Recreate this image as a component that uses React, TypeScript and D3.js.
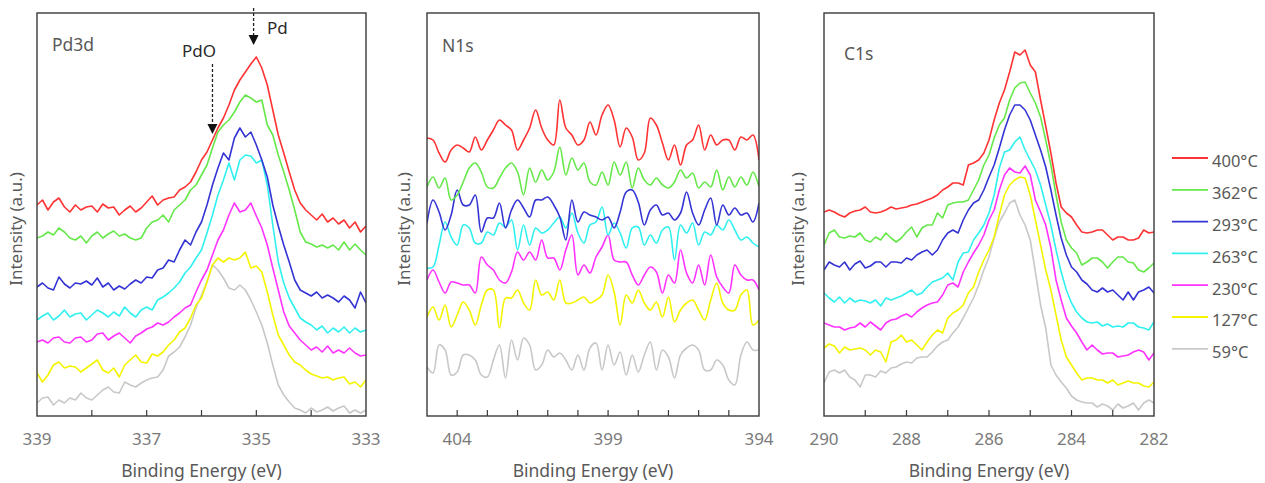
import React from 'react';
import * as d3 from 'd3';

// ---------- legend / series ----------
const temps = ['400°C', '362°C', '293°C', '263°C', '230°C', '127°C', '59°C'];
const colors = ['#ff3333', '#66e84a', '#3434d4', '#30f0f0', '#ff33ff', '#f4f400', '#c8c8c8'];

// ---------- Pd3d (339 -> 333 eV, step 0.1) ----------
const pdEnergy = d3.range(61).map((i) => +(339 - i * 0.1).toFixed(2));
const pd400 = [295,300,290,298,302,293,288,295,290,293,294,288,296,292,293,285,290,294,288,292,298,304,295,300,302,303,310,313,318,328,340,348,360,372,382,395,410,420,428,436,443,432,415,390,365,347,328,310,297,290,285,280,286,278,282,276,280,272,278,268,274];
const pd362 = [262,264,268,265,272,268,262,260,264,257,264,268,262,266,269,264,266,262,260,262,272,278,280,285,278,290,295,300,310,315,325,335,352,368,375,380,388,398,405,402,398,400,375,365,345,328,310,290,268,258,256,253,255,252,255,250,258,250,256,250,245];
const pd293 = [213,217,212,210,223,216,212,217,216,219,215,222,213,217,210,214,211,216,220,217,223,222,230,232,240,238,250,260,255,268,278,295,315,332,347,340,362,372,363,368,355,340,323,295,274,255,238,220,210,207,204,208,202,205,202,198,204,200,192,208,197];
const pd263 = [180,184,187,180,184,190,183,186,187,180,185,190,187,183,188,184,193,187,183,190,193,190,200,203,207,212,218,227,233,242,250,267,285,305,320,337,320,340,345,344,337,340,315,275,238,217,202,192,182,178,175,170,174,167,172,168,173,167,172,168,170];
const pd230 = [158,160,157,162,163,158,157,162,163,158,160,166,167,160,164,167,162,157,164,167,171,173,177,175,178,183,187,192,195,208,220,230,245,260,270,285,297,288,290,297,284,272,255,232,210,188,174,167,160,155,150,153,148,154,147,150,147,152,147,144,145];
const pd127 = [127,118,125,135,138,132,134,133,128,132,136,140,130,127,132,123,135,140,145,138,137,146,144,148,155,160,168,172,182,195,202,218,235,242,238,242,240,242,248,232,234,228,208,185,165,155,145,138,135,130,126,124,122,123,120,122,123,116,118,113,120];
const pd59 = [97,102,103,95,100,97,102,100,107,102,100,105,110,113,108,107,118,115,113,117,120,122,123,130,144,148,153,163,175,192,205,218,235,230,222,212,210,215,210,200,188,175,157,135,115,105,98,92,90,87,92,88,90,93,89,92,94,87,90,87,90];

// ---------- N1s (405 -> 394 eV, step 0.2) ----------
const nEnergy = d3.range(56).map((i) => +(405 - i * 0.2).toFixed(2));
const n400 = [362,360,347,338,350,355,352,348,363,350,360,370,380,375,370,350,360,372,390,372,360,355,400,372,365,355,360,378,365,385,395,380,353,372,363,340,347,382,375,357,340,355,335,355,360,375,350,365,355,360,360,350,363,360,365,340];
const n362 = [313,323,312,322,300,305,318,332,337,328,313,312,322,332,337,328,305,332,318,330,320,328,353,325,342,330,337,318,315,328,315,338,325,338,312,332,320,315,322,315,312,318,330,322,327,312,318,313,330,310,323,313,323,315,328,313];
const n293 = [277,300,288,270,285,310,295,295,305,268,282,282,297,272,290,300,292,283,300,300,303,295,283,260,300,278,288,285,283,280,283,272,288,308,310,298,275,290,295,285,287,280,287,308,287,275,290,302,275,295,285,292,285,287,278,297];
const n263 = [232,233,255,278,263,255,275,272,257,257,268,265,277,273,280,250,275,255,272,267,270,277,283,272,287,267,257,275,278,293,265,277,267,252,272,273,255,265,257,270,273,240,275,267,277,255,268,265,275,270,280,270,260,263,257,253];
const n230 = [220,230,218,207,218,217,215,215,207,243,235,230,220,217,228,248,240,248,240,260,242,242,230,250,265,225,235,227,243,253,265,240,238,238,225,215,225,233,228,207,225,217,250,227,217,235,215,245,223,213,207,235,225,220,220,210];
const n127 = [183,193,180,195,173,185,198,190,175,195,210,210,172,202,202,210,197,190,220,205,208,200,220,197,197,200,203,197,200,205,225,208,175,205,197,210,197,190,198,183,203,178,190,197,200,190,180,200,217,197,190,190,205,210,175,180];
const n59 = [133,127,155,150,125,128,145,145,140,125,123,140,155,122,160,140,162,155,130,135,150,143,147,140,130,145,130,152,157,130,155,135,148,125,145,128,145,158,130,150,143,122,145,152,155,150,130,130,140,135,120,115,145,158,150,150];

// ---------- C1s (290 -> 282 eV, step 0.125) ----------
const cEnergy = d3.range(65).map((i) => +(290 - i * 0.125).toFixed(3));
const c400 = [288,290,288,285,283,287,289,290,293,288,287,288,290,293,291,292,293,295,296,298,300,302,305,310,313,317,317,315,335,337,340,347,360,380,397,410,428,448,445,450,435,428,400,374,347,317,293,287,283,275,268,267,268,270,270,265,260,263,263,260,260,262,270,267,268];
const c362 = [255,267,270,263,262,264,263,267,260,258,263,260,267,262,258,262,268,273,263,272,275,275,287,282,295,297,298,298,300,310,320,335,345,362,375,382,400,412,417,418,407,397,383,360,335,305,278,260,252,247,235,238,242,242,238,232,238,243,243,238,237,230,228,232,237];
const c293 = [230,238,235,233,238,230,236,239,232,234,238,238,233,238,238,237,242,240,245,248,250,245,250,260,267,270,267,280,290,297,300,310,323,335,352,370,385,395,395,390,380,365,350,333,310,285,262,245,233,228,220,216,210,208,212,208,210,205,200,208,200,208,210,213,207];
const c263 = [207,202,198,203,197,202,198,200,199,197,200,194,202,200,202,204,207,210,205,207,213,218,220,222,227,220,238,247,248,260,267,275,287,305,332,348,350,358,363,350,340,330,315,295,275,250,228,210,197,188,182,178,177,178,174,176,173,174,173,177,177,173,172,170,178];
const c230 = [177,175,173,173,170,172,173,177,173,178,174,170,177,180,181,184,186,183,188,192,195,197,198,205,215,217,213,228,238,247,255,265,280,290,310,325,332,328,327,334,325,300,288,275,252,220,200,182,174,167,158,150,155,150,146,147,147,143,144,145,148,150,148,140,147];
const c127 = [152,156,154,147,153,150,151,152,150,145,150,148,138,158,160,165,158,160,155,150,158,165,170,167,182,187,190,195,207,213,228,240,250,263,285,305,315,320,323,322,305,280,255,230,210,185,160,143,135,127,120,122,122,120,120,117,120,115,117,119,117,117,114,113,118];
const c59 = [117,128,130,127,130,123,120,113,125,125,123,129,127,132,133,136,138,137,142,143,143,148,154,158,160,167,173,182,192,202,215,230,243,262,278,287,297,300,285,275,260,228,195,172,135,125,118,112,104,100,98,97,97,93,96,94,90,96,92,94,97,90,97,100,97];

// tick labels
const pdTickLabels = [339, 337, 335, 333];
const nTickLabels = [404, 399, 394];
const cTickLabels = [290, 288, 286, 284, 282];

const intensityDomain = [84, 487];

type Panel = {
  name: string;
  left: number;
  right: number;
  domain: [number, number];
  energy: number[];
  series: number[][];
  minor: number[];
  labels: number[];
  smooth: boolean;
  titleX: number;
  titleY: number;
  yTitleX: number;
};

const panels: Panel[] = [
  {
    name: 'Pd3d', left: 37, right: 366, domain: [339, 333], energy: pdEnergy,
    series: [pd400, pd362, pd293, pd263, pd230, pd127, pd59],
    minor: d3.range(334, 339), labels: pdTickLabels, smooth: false,
    titleX: 52, titleY: 51, yTitleX: 17,
  },
  {
    name: 'N1s', left: 427, right: 759, domain: [405, 394], energy: nEnergy,
    series: [n400, n362, n293, n263, n230, n127, n59],
    minor: d3.range(395, 405), labels: nTickLabels, smooth: true,
    titleX: 442, titleY: 52, yTitleX: 405,
  },
  {
    name: 'C1s', left: 824, right: 1154, domain: [290, 282], energy: cEnergy,
    series: [c400, c362, c293, c263, c230, c127, c59],
    minor: d3.range(283, 290), labels: cTickLabels, smooth: false,
    titleX: 844, titleY: 60, yTitleX: 799,
  },
];

const TOP = 13;
const BOTTOM = 416;
const FONT = "'Noto Sans', 'Open Sans', sans-serif";
const TEXT = '#595959';

function PanelView({ p, idx }: { p: Panel; idx: number }) {
  const x = d3.scaleLinear().domain(p.domain).range([p.left, p.right]);
  const y = d3.scaleLinear().domain(intensityDomain).range([BOTTOM, TOP]);
  const line = d3
    .line<number>()
    .x((_, i) => x(p.energy[i]))
    .y((v) => y(v))
    .curve(p.smooth ? d3.curveCatmullRom.alpha(0.5) : d3.curveLinear);
  const clipId = `clip-${idx}`;
  const order = d3.range(p.series.length).reverse();
  return (
    <g>
      <defs>
        <clipPath id={clipId}>
          <rect x={p.left} y={TOP} width={p.right - p.left} height={BOTTOM - TOP} />
        </clipPath>
      </defs>
      <g clipPath={`url(#${clipId})`}>
        {order.map((si) => (
          <path key={si} d={line(p.series[si]) || ''} fill="none" stroke={colors[si]} strokeWidth={1.6} strokeLinejoin="round" />
        ))}
      </g>
      <rect x={p.left} y={TOP} width={p.right - p.left} height={BOTTOM - TOP} fill="none" stroke="#3a3a3a" strokeWidth={1.4} />
      {p.minor.map((t) => (
        <line key={`m${t}`} x1={x(t)} x2={x(t)} y1={BOTTOM} y2={BOTTOM - 6} stroke="#3a3a3a" strokeWidth={1.2} />
      ))}
      {p.labels.map((t) => (
        <text key={`l${t}`} x={x(t)} y={440} textAnchor="middle" dominantBaseline="middle" fontSize={17} fill="#7a7a7a" fontFamily={FONT}>
          {t}
        </text>
      ))}
      <text x={(p.left + p.right) / 2} y={472} textAnchor="middle" dominantBaseline="middle" fontSize={17.5} fill={TEXT} fontFamily={FONT}>
        Binding Energy (eV)
      </text>
      <text
        transform={`translate(${p.yTitleX},${229}) rotate(-90)`}
        textAnchor="middle"
        dominantBaseline="middle"
        fontSize={17}
        fill={TEXT}
        fontFamily={FONT}
      >
        Intensity (a.u.)
      </text>
      <text x={p.titleX} y={p.titleY} fontSize={17.5} fill={TEXT} fontFamily={FONT}>
        {p.name}
      </text>
    </g>
  );
}

function Arrow({ xE, y1, y2, panel }: { xE: number; y1: number; y2: number; panel: Panel }) {
  const x = d3.scaleLinear().domain(panel.domain).range([panel.left, panel.right]);
  const px = x(xE);
  return (
    <g>
      <line x1={px} x2={px} y1={y1} y2={y2 - 9} stroke="#222" strokeWidth={1.3} strokeDasharray="3,2" />
      <path d={`M${px - 5},${y2 - 10} L${px + 5},${y2 - 10} L${px},${y2} Z`} fill="#111" />
    </g>
  );
}

export default function App() {
  const legendX1 = 1172;
  const legendX2 = 1208;
  return (
    <svg width={1265} height={483} style={{ position: 'absolute', left: 0, top: 0, background: '#fff' }}>
      <rect width={1265} height={483} fill="#fff" />
      {panels.map((p, i) => (
        <PanelView key={p.name} p={p} idx={i} />
      ))}
      {/* Pd3d annotations */}
      <Arrow xE={335.05} y1={8} y2={45} panel={panels[0]} />
      <text x={267} y={34} fontSize={17} fill="#2a2a2a" fontFamily={FONT}>Pd</text>
      <Arrow xE={335.8} y1={64} y2={134} panel={panels[0]} />
      <text x={182} y={57} fontSize={17} fill="#2a2a2a" fontFamily={FONT}>PdO</text>
      {/* legend */}
      {temps.map((t, i) => {
        const ly = 158 + i * 31.8;
        return (
          <g key={t}>
            <line x1={legendX1} x2={legendX2} y1={ly} y2={ly} stroke={colors[i]} strokeWidth={1.8} />
            <text x={1212} y={ly + 5} dominantBaseline="middle" fontSize={16.5} fill={TEXT} fontFamily={FONT}>
              {t}
            </text>
          </g>
        );
      })}
    </svg>
  );
}
